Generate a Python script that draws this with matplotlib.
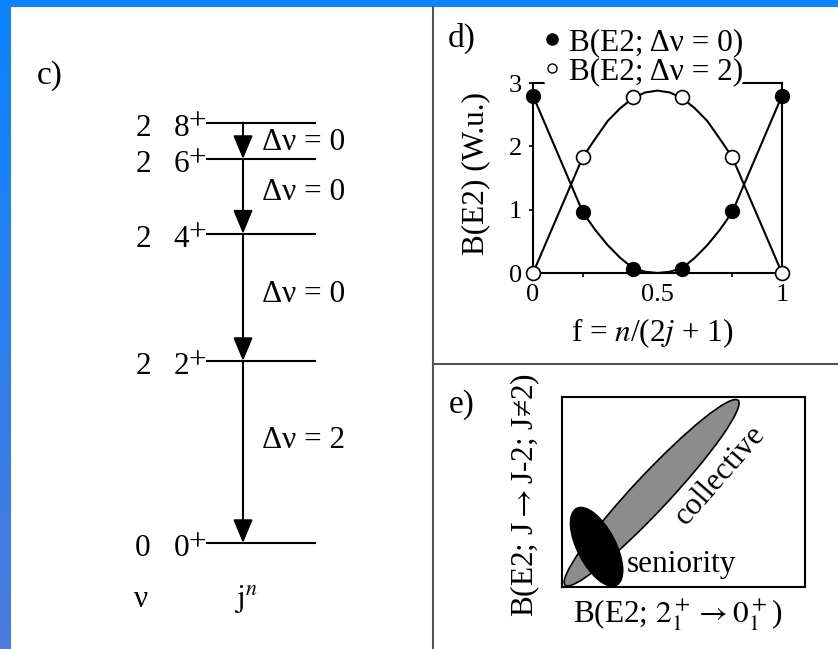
import numpy as np
import matplotlib
matplotlib.use("Agg")
import matplotlib.pyplot as plt
from matplotlib.patches import Ellipse, Rectangle
from matplotlib.lines import Line2D

plt.rcParams['font.family'] = ['Liberation Serif', 'DejaVu Serif']
plt.rcParams['mathtext.fontset'] = 'stix'

##############################
# Data

# c) j^n level scheme (energies in units of E(2+))
level_spin = ["0", "2", "4", "6", "8"]
level_seniority = ["0", "2", "2", "2", "2"]
level_energy = [0.0, 1.0, 1.70, 2.11, 2.31]
delta_v = ["2", "0", "0", "0"]          # 2->0, 4->2, 6->4, 8->6

# d) B(E2) vs f = n/(2j+1)
f_points = [0.0, 0.2, 0.4, 0.6, 0.8, 1.0]
b_dv0_points = [2.8, 0.96, 0.07, 0.07, 0.98, 2.8]
b_dv2_points = [0.0, 1.83, 2.78, 2.78, 1.83, 0.0]
f_curve = [0.0, 0.2, 0.25, 0.3, 0.35, 0.4, 0.45, 0.5, 0.55, 0.6, 0.65, 0.7, 0.75, 0.8, 1.0]
b_dv0_curve = [2.8, 0.96, 0.68, 0.44, 0.24, 0.08, 0.02, 0.0, 0.02, 0.08, 0.24, 0.44, 0.68, 0.96, 2.8]
b_dv2_curve = [0.0, 1.83, 2.12, 2.4, 2.6, 2.76, 2.85, 2.88, 2.85, 2.76, 2.6, 2.4, 2.12, 1.83, 0.0]

# e) schematic regions
region_name = ["collective", "seniority"]
region_center = [(0.475, 0.497), (0.185, 0.212)]
region_length = [1.334, 0.455]
region_width = [0.19, 0.20]
region_angle = [46.9, 117.5]

##############################
# Figure and background

W, H = 838, 649
FS = 22.5
fig = plt.figure(figsize=(W / 100, H / 100), dpi=100)
fig.patch.set_facecolor('white')

bg = fig.add_axes([0, 0, 1, 1])
g = np.linspace(0, 1, 256)[:, None, None]
top = np.array([0.04, 0.52, 1.0])
bot = np.array([0.30, 0.48, 0.87])
bg.imshow(top * (1 - g) + bot * g, extent=[0, 10, H, 0], aspect='auto')
bg.add_patch(Rectangle((0, 0), W, 7, color='#0a84ff', lw=0))
bg.plot([433, 433], [7, H], color='#555555', lw=1.5)
bg.plot([433, W], [364, 364], color='#555555', lw=1.5)
bg.set_xlim(0, W)
bg.set_ylim(H, 0)
bg.axis('off')

def px(x, y):
    return x / W, 1 - y / H

##############################
# c) level scheme

ax_c = fig.add_axes([0, 0, 1, 1])
ax_c.patch.set_visible(False)
ax_c.axis('off')
e0, e1 = 543, 361            # pixel rows of E=0 and E=1
unit = e0 - e1
ax_c.set_xlim(0, W)
ax_c.set_ylim(-(H - e0) / unit, e0 / unit)
dy = 13.5 / unit

for s, v, E in zip(level_spin, level_seniority, level_energy):
    ax_c.plot([207, 315], [E, E], color='k', lw=1.5)
    ax_c.text(143, E - dy, v, ha='center', va='baseline', fontsize=FS)
    ax_c.text(189, E - dy, s, ha='right', va='baseline', fontsize=FS)
    ax_c.text(188, E - 7 / unit, "+", ha='left', va='baseline', fontsize=FS)

label_base = [0.522, 1.324, 1.885, 2.159]
for i in range(len(level_energy) - 1):
    ax_c.annotate("", xy=(243, level_energy[i]), xytext=(243, level_energy[i + 1]),
                  arrowprops=dict(arrowstyle='-|>,head_length=0.72,head_width=0.3',
                                  mutation_scale=20, lw=1.5, color='k',
                                  shrinkA=0, shrinkB=0))
    ax_c.text(262, label_base[i], "Δν = " + delta_v[i], ha='left', va='baseline', fontsize=FS)

ax_c.text(141, -0.352, "ν", ha='center', va='baseline', fontsize=FS)
ax_c.text(246, -0.352, r"$\mathrm{j}^{n}$", ha='center', va='baseline', fontsize=FS)
fig.text(*px(50, 76), "c)", ha='center', va='center', fontsize=24)

##############################
# d) B(E2) curves

ax_d = fig.add_axes([533 / W, 1 - 273 / H, 249 / W, 190 / H])
ax_d.plot(f_curve, b_dv0_curve, color='k', lw=1.5, zorder=2)
ax_d.plot(f_curve, b_dv2_curve, color='k', lw=1.5, zorder=2)
ax_d.plot(f_points, b_dv0_points, 'o', ms=10, mfc='k', mec='k', clip_on=False, zorder=4)
ax_d.plot(f_points, b_dv2_points, 'o', ms=10, mfc='white', mec='k', mew=1.2, clip_on=False, zorder=4)
ax_d.set_xlim(0, 1)
ax_d.set_ylim(0, 3)
ax_d.set_xticks([0, 0.5, 1])
ax_d.set_xticklabels(["0", "0.5", "1"])
ax_d.set_xticks([0.2, 0.4, 0.6, 0.8], minor=True)
ax_d.set_yticks([0, 1, 2, 3])
ax_d.tick_params(axis='x', which='major', length=0, pad=8, labelsize=19)
ax_d.tick_params(axis='x', which='minor', length=3, width=1.2, direction='out')
ax_d.tick_params(axis='y', length=3, width=1.2, direction='out', pad=5, labelsize=19)
for sp in ax_d.spines.values():
    sp.set_linewidth(1.5)
ax_d.text(-0.229, 0.526, "B(E2) (W.u.)", rotation=90, ha='center', va='center',
          fontsize=FS, transform=ax_d.transAxes)
ax_d.text(0.478, -0.317, r"f = $n$/(2$j$ + 1)", ha='center', va='center',
          fontsize=FS, transform=ax_d.transAxes)
handles = [Line2D([], [], ls='none', marker='o', ms=8, mfc='k', mec='k'),
           Line2D([], [], ls='none', marker='o', ms=6.5, mfc='white', mec='k', mew=1.0)]
leg = ax_d.legend(handles, ["B(E2; Δν = 0)", "B(E2; Δν = 2)"], loc='lower left',
                  bbox_to_anchor=(0.045, 0.985), frameon=True, facecolor='white',
                  edgecolor='none', framealpha=1, fontsize=FS, handlelength=0.5,
                  handletextpad=0.3, borderpad=0.0, labelspacing=0.0, borderaxespad=0)
leg.set_zorder(6)
fig.text(*px(462, 38), "d)", ha='center', va='center', fontsize=24)

##############################
# e) collective vs seniority

ax_e = fig.add_axes([561.5 / W, 1 - 587 / H, 243.5 / W, 189.7 / H])
ax_e.set_xlim(0, 243.5 / 189.7)
ax_e.set_ylim(0, 1)
colors = ['#8c8c8c', 'black']
for name, c, L, w, a, col in zip(region_name, region_center, region_length,
                                 region_width, region_angle, colors):
    ax_e.add_patch(Ellipse(c, L, w, angle=a, facecolor=col, edgecolor='k', lw=1.2))
ax_e.text(0.834, 0.589, "collective", rotation=48.8, ha='center', va='center',
          fontsize=FS, rotation_mode='anchor')
ax_e.text(0.632, 0.116, "seniority", ha='center', va='center', fontsize=FS)
ax_e.set_xticks([])
ax_e.set_yticks([])
for sp in ax_e.spines.values():
    sp.set_linewidth(1.5)
fig.text(*px(525, 495), r"B(E2; J $\!\!\rightarrow\!\!$ J-2; J≠2)", rotation=90, ha='center',
         va='center', fontsize=FS)
fig.text(*px(678, 623), r"B(E2; $2_1^+ \rightarrow 0_1^+$)", ha='center', va='baseline',
         fontsize=FS)
fig.text(*px(462, 405), "e)", ha='center', va='center', fontsize=24)

fig.savefig("out.png", dpi=100)
